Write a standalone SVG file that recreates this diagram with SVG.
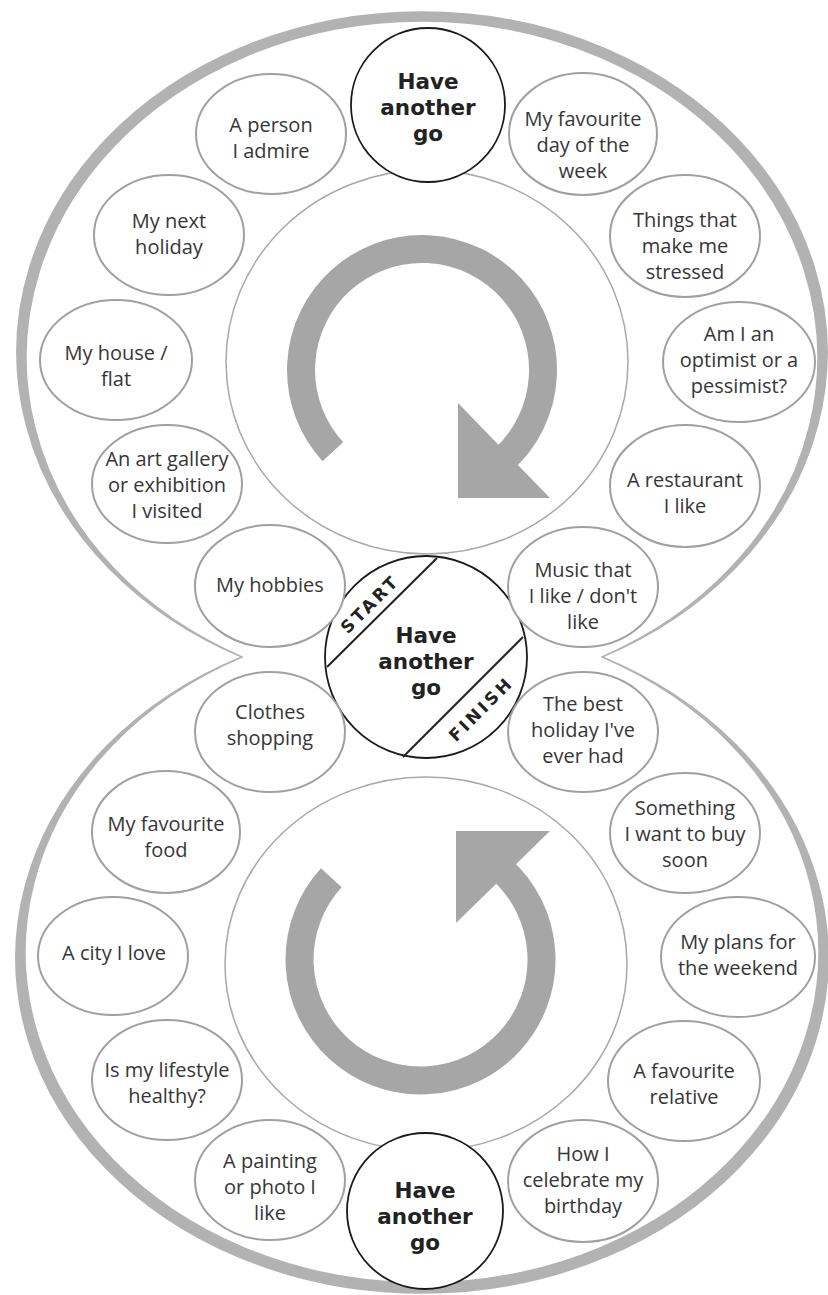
<svg xmlns="http://www.w3.org/2000/svg" width="828" height="1295" viewBox="0 0 828 1295">
<style>
.band{fill:#b2b2b2;stroke:#b2b2b2;stroke-width:1.6;stroke-linejoin:round}
.inner{fill:none;stroke:#a8a8a8;stroke-width:1.5}
.ring{fill:none;stroke:#a6a6a6;stroke-width:28}
.head{fill:#a6a6a6}
.node{fill:#fff;stroke:#a0a0a0;stroke-width:2}
.hag{fill:#fff;stroke:#1a1a1a;stroke-width:1.8}
.t{font-family:"Open Sans","Noto Sans","DejaVu Sans",sans-serif;font-size:20px;fill:#363636;text-anchor:middle}
.b{font-family:"DejaVu Sans","Open Sans",sans-serif;font-size:21.5px;font-weight:bold;fill:#222;text-anchor:middle}
.s{font-family:"DejaVu Sans","Open Sans",sans-serif;font-size:17px;font-weight:bold;fill:#222;text-anchor:middle;letter-spacing:3px}
.chord{stroke:#222;stroke-width:2}
</style>
<rect width="828" height="1295" fill="#fff"/>
<g id="frame">
<path class="band" d="M 242 657 A 405 340.2 0 1 1 602 657 A 396 336.4 0 1 0 242 657 Z"/>
<path class="band" d="M 602 657 A 406 335.4 0 1 1 242 657 A 397 331 0 1 0 602 657 Z"/>
<ellipse class="inner" cx="427" cy="362" rx="201" ry="192"/>
<ellipse class="inner" cx="426" cy="964" rx="201" ry="187"/>
</g>
<g id="connectors">
<path class="ring" d="M 332.8 451.7 A 121 121 0 1 1 503.0 459.9"/>
<polygon class="head" points="458,403 458,498 550,498"/>
<path class="ring" d="M 331.3 877.8 A 121 121 0 1 0 501.5 869.6"/>
<polygon class="head" points="456,831 550,831 456,923"/>
</g>
<g id="hag-top"><circle class="hag" cx="428" cy="105" r="77"/>
<text class="b" x="428" y="89">Have</text><text class="b" x="428" y="115">another</text><text class="b" x="428" y="141">go</text></g>
<g id="hag-center"><circle class="hag" cx="426" cy="657" r="101"/>
<line class="chord" x1="437" y1="558" x2="327" y2="667"/>
<line class="chord" x1="523" y1="637" x2="403" y2="757"/>
<text class="s" transform="translate(370,604) rotate(-45)" y="6">START</text>
<text class="s" transform="translate(481,709) rotate(-45)" y="6">FINISH</text>
<text class="b" x="426" y="643">Have</text><text class="b" x="426" y="669">another</text><text class="b" x="426" y="695">go</text></g>
<g id="hag-bottom"><circle class="hag" cx="425" cy="1211" r="78"/>
<text class="b" x="425" y="1198">Have</text><text class="b" x="425" y="1224">another</text><text class="b" x="425" y="1250">go</text></g>
<g id="n1"><ellipse class="node" cx="271" cy="134" rx="75" ry="60"/><text class="t" x="271" y="132">A person</text><text class="t" x="271" y="158">I admire</text></g>
<g id="n2"><ellipse class="node" cx="583" cy="134" rx="74" ry="61"/><text class="t" x="583" y="126">My favourite</text><text class="t" x="583" y="152">day of the</text><text class="t" x="583" y="178">week</text></g>
<g id="n3"><ellipse class="node" cx="169" cy="235" rx="75" ry="60"/><text class="t" x="169" y="228">My next</text><text class="t" x="169" y="254">holiday</text></g>
<g id="n4"><ellipse class="node" cx="685" cy="236" rx="75" ry="61"/><text class="t" x="685" y="227">Things that</text><text class="t" x="685" y="253">make me</text><text class="t" x="685" y="279">stressed</text></g>
<g id="n5"><ellipse class="node" cx="116" cy="360" rx="76" ry="60"/><text class="t" x="116" y="360">My house /</text><text class="t" x="116" y="386">flat</text></g>
<g id="n6"><ellipse class="node" cx="739" cy="362" rx="76" ry="60"/><text class="t" x="739" y="341">Am I an</text><text class="t" x="739" y="367">optimist or a</text><text class="t" x="739" y="393">pessimist?</text></g>
<g id="n7"><ellipse class="node" cx="167" cy="484" rx="75" ry="59"/><text class="t" x="167" y="466">An art gallery</text><text class="t" x="167" y="492">or exhibition</text><text class="t" x="167" y="518">I visited</text></g>
<g id="n8"><ellipse class="node" cx="685" cy="486" rx="75" ry="61"/><text class="t" x="685" y="487">A restaurant</text><text class="t" x="685" y="513">I like</text></g>
<g id="n9"><ellipse class="node" cx="270" cy="586" rx="75" ry="61"/><text class="t" x="270" y="592">My hobbies</text></g>
<g id="n10"><ellipse class="node" cx="583" cy="587" rx="75" ry="60"/><text class="t" x="583" y="577">Music that</text><text class="t" x="583" y="603">I like / don't</text><text class="t" x="583" y="629">like</text></g>
<g id="n11"><ellipse class="node" cx="270" cy="732" rx="75" ry="60"/><text class="t" x="270" y="719">Clothes</text><text class="t" x="270" y="745">shopping</text></g>
<g id="n12"><ellipse class="node" cx="583" cy="732" rx="75" ry="60"/><text class="t" x="583" y="711">The best</text><text class="t" x="583" y="737">holiday I've</text><text class="t" x="583" y="763">ever had</text></g>
<g id="n13"><ellipse class="node" cx="166" cy="832" rx="74" ry="61"/><text class="t" x="166" y="831">My favourite</text><text class="t" x="166" y="857">food</text></g>
<g id="n14"><ellipse class="node" cx="685" cy="833" rx="75" ry="60"/><text class="t" x="685" y="815">Something</text><text class="t" x="685" y="841">I want to buy</text><text class="t" x="685" y="867">soon</text></g>
<g id="n15"><ellipse class="node" cx="113" cy="956" rx="75" ry="59"/><text class="t" x="114" y="960">A city I love</text></g>
<g id="n16"><ellipse class="node" cx="738" cy="957" rx="77" ry="60"/><text class="t" x="738" y="949">My plans for</text><text class="t" x="738" y="975">the weekend</text></g>
<g id="n17"><ellipse class="node" cx="167" cy="1080" rx="75" ry="60"/><text class="t" x="167" y="1077">Is my lifestyle</text><text class="t" x="167" y="1103">healthy?</text></g>
<g id="n18"><ellipse class="node" cx="684" cy="1081" rx="76" ry="60"/><text class="t" x="684" y="1078">A favourite</text><text class="t" x="684" y="1104">relative</text></g>
<g id="n19"><ellipse class="node" cx="270" cy="1180" rx="75" ry="60"/><text class="t" x="270" y="1168">A painting</text><text class="t" x="270" y="1194">or photo I</text><text class="t" x="270" y="1220">like</text></g>
<g id="n20"><ellipse class="node" cx="583" cy="1181" rx="75" ry="61"/><text class="t" x="583" y="1161">How I</text><text class="t" x="583" y="1187">celebrate my</text><text class="t" x="583" y="1213">birthday</text></g>
</svg>
